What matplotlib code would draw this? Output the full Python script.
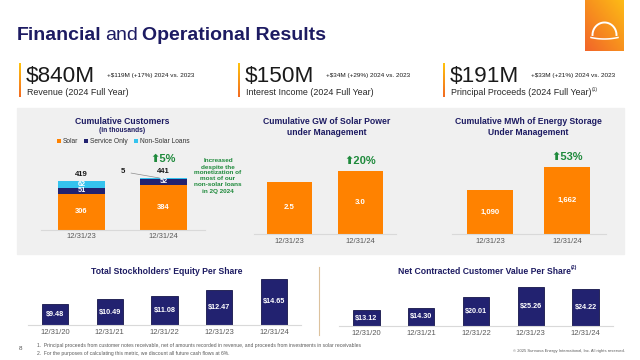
import numpy as np
import matplotlib
matplotlib.use('Agg')
import matplotlib.pyplot as plt
from matplotlib.colors import LinearSegmentedColormap
from matplotlib.patches import Rectangle

plt.rcParams['font.family'] = ['Liberation Sans', 'DejaVu Sans']

W, H = 640, 360

# --- data ---
kpi_values = ['$840M', '$150M', '$191M']
kpi_changes = ['+$119M (+17%) 2024 vs. 2023', '+$34M (+29%) 2024 vs. 2023', '+$33M (+21%) 2024 vs. 2023']
kpi_labels = ['Revenue (2024 Full Year)', 'Interest Income (2024 Full Year)', 'Principal Proceeds (2024 Full Year)']

dates_2 = ['12/31/23', '12/31/24']
cust_solar = [306, 384]
cust_service = [51, 52]
cust_nonsolar = [62, 5]
gw_solar = [2.5, 3.0]
mwh_storage = [1090, 1662]
growth = ['5%', '20%', '53%']

dates_5 = ['12/31/20', '12/31/21', '12/31/22', '12/31/23', '12/31/24']
equity_ps = [9.48, 10.49, 11.08, 12.47, 14.65]
nccv_ps = [13.12, 14.30, 20.01, 25.26, 24.22]

NAVY = '#1d1b62'
BAR_NAVY = '#222270'
ORANGE = '#ff8200'
LBLUE = '#35c3ee'
GREEN = '#1f8a3c'
GREY = '#595959'

fig = plt.figure(figsize=(6.4, 3.6), dpi=100)
fig.patch.set_facecolor('white')

# full-figure overlay in pixel coordinates
bg = fig.add_axes([0, 0, 1, 1])
bg.set_autoscale_on(False)
bg.set_xlim(0, W)
bg.set_ylim(H, 0)
bg.axis('off')


def px_axes(x0, y0, x1, y1):
    ax = fig.add_axes([x0 / W, 1 - y1 / H, (x1 - x0) / W, (y1 - y0) / H])
    ax.set_facecolor('none')
    return ax


def chain(parts, x, y, gap=0, **kw):
    r = fig.canvas.get_renderer()
    for s, extra in parts:
        t = bg.text(x, y, s, **kw, **extra)
        bb = t.get_window_extent(renderer=r)
        x = bg.transData.inverted().transform((bb.x1, bb.y0))[0] + gap
    return x


def style_bars(ax, labels, pad=3):
    for s in ['top', 'right', 'left']:
        ax.spines[s].set_visible(False)
    ax.spines['bottom'].set_color('#d9d9d9')
    ax.spines['bottom'].set_linewidth(0.8)
    ax.set_yticks([])
    ax.set_xticks(range(len(labels)), labels)
    ax.tick_params(axis='x', length=0, pad=pad, labelsize=5.5, labelcolor=GREY)
    ax.set_xlim(-0.5, len(labels) - 0.5)


# --- header ---
chain([('Financial', dict(fontweight='bold')), ('and', {}),
       ('Operational Results', dict(fontweight='bold'))],
      17, 40, gap=4, fontsize=14, color=NAVY, va='baseline')

logo_cmap = LinearSegmentedColormap.from_list('logo', ['#fdbb16', '#f7901e', '#f2652a'])
xx, yy = np.meshgrid(np.linspace(0, 1, 40), np.linspace(0, 1, 50))
bg.imshow((1 - xx + yy) / 2, cmap=logo_cmap, extent=(585, 624, 51, 0), aspect='auto', zorder=2)
t = np.linspace(0, np.pi, 60)
bg.plot(604.5 + 12 * np.cos(t), 35 - 12.5 * np.sin(t), color='white', lw=1.4, zorder=3)
xb = np.linspace(591, 618, 30)
bg.plot(xb, 37.5 + 1.5 * (1 - ((xb - 604.5) / 13.5) ** 2), color='white', lw=1.1, zorder=3)

# --- KPI row ---
acc_cmap = LinearSegmentedColormap.from_list('acc', ['#ffc20e', '#f26b21'])
grad = np.linspace(0, 1, 30).reshape(-1, 1)
for i, x in enumerate([19, 238, 443]):
    bg.imshow(grad, cmap=acc_cmap, extent=(x, x + 2, 97, 63), aspect='auto', zorder=2)
    bg.text(x + 7, 82.5, kpi_values[i], fontsize=16.2, color='#1a1a1a', va='baseline')
    bg.text(x + 88, 75, kpi_changes[i], fontsize=4.6, color='#1a1a1a', va='center')
    end = chain([(kpi_labels[i], {})], x + 8, 95, fontsize=6.4, color='#262626', va='baseline')
    if i == 2:
        bg.text(end + 0.5, 91, '(1)', fontsize=3.6, color='#262626', va='baseline')

# --- grey panel ---
bg.add_patch(Rectangle((17, 108), 607, 146, color='#f0f0f0', zorder=0))

# chart titles
bg.text(122, 122, 'Cumulative Customers', fontsize=6.2, fontweight='bold', color=NAVY, ha='center', va='center')
bg.text(122, 131, '(in thousands)', fontsize=4.8, fontweight='bold', color=NAVY, ha='center', va='center')
bg.text(327, 127, 'Cumulative GW of Solar Power\nunder Management', fontsize=6.2, fontweight='bold',
        color=NAVY, ha='center', va='center', linespacing=1.3)
bg.text(528, 127, 'Cumulative MWh of Energy Storage\nUnder Management', fontsize=6.2, fontweight='bold',
        color=NAVY, ha='center', va='center', linespacing=1.3)
bg.text(218, 176, 'Increased\ndespite the\nmonetization of\nmost of our\nnon-solar loans\nin 2Q 2024',
        fontsize=4.6, fontweight='bold', color=GREEN, ha='center', va='center', linespacing=1.25)

# customers stacked chart
ax1 = px_axes(40.5, 160, 204.5, 230)
x2 = np.arange(len(dates_2))
b_solar = ax1.bar(x2, cust_solar, 0.57, color=ORANGE, label='Solar')
bot = np.array(cust_solar)
b_serv = ax1.bar(x2, cust_service, 0.57, bottom=bot, color=BAR_NAVY, label='Service Only')
bot2 = bot + np.array(cust_service)
b_non = ax1.bar(x2, cust_nonsolar, 0.57, bottom=bot2, color=LBLUE, label='Non-Solar Loans')
totals = bot2 + np.array(cust_nonsolar)
ax1.set_ylim(0, 70 / 0.118)
style_bars(ax1, dates_2, pad=2)
for i in x2:
    ax1.text(i, cust_solar[i] / 2, str(cust_solar[i]), color='white', fontsize=5.4,
             fontweight='bold', ha='center', va='center')
    ax1.text(i, bot[i] + cust_service[i] / 2, str(cust_service[i]), color='white', fontsize=5.2,
             fontweight='bold', ha='center', va='center')
    ax1.annotate(str(totals[i]), (i, totals[i]), xytext=(0, 2), textcoords='offset points',
                 ha='center', va='bottom', fontsize=5.6, fontweight='bold', color='#1a1a1a')
ax1.text(0, bot2[0] + cust_nonsolar[0] / 2, str(cust_nonsolar[0]), color='white', fontsize=5.2,
         fontweight='bold', ha='center', va='center')
ax1.annotate(str(cust_nonsolar[1]), (0.95, totals[1]), xytext=(-26, 4.5), textcoords='offset points',
             ha='center', va='center', fontsize=5.6, fontweight='bold', color='#1a1a1a',
             arrowprops=dict(arrowstyle='-', color='#8c8c8c', lw=0.5, shrinkA=2, shrinkB=0))
ax1.annotate('⬆' + growth[0], (1, totals[1]), xytext=(0, 14), textcoords='offset points',
             ha='center', va='center', fontsize=8, fontweight='bold', color=GREEN)
ax1.legend(handles=[b_solar, b_serv, b_non], loc='center', bbox_to_anchor=(123 / W, 1 - 142 / H),
           bbox_transform=fig.transFigure, ncol=3, frameon=False, fontsize=4.8,
           handlelength=0.6, handleheight=0.6, handletextpad=0.3, columnspacing=0.9,
           labelcolor='#333333')

# GW chart
ax2 = px_axes(254, 154, 396, 234)
ax2.bar(x2, gw_solar, 0.63, color=ORANGE)
ax2.set_ylim(0, 80 / 21)
style_bars(ax2, dates_2)
for i in x2:
    ax2.text(i, gw_solar[i] / 2, f'{gw_solar[i]:.1f}', color='white', fontsize=5.6,
             fontweight='bold', ha='center', va='center')
ax2.annotate('⬆' + growth[1], (1, gw_solar[1]), xytext=(0, 7.5), textcoords='offset points',
             ha='center', va='center', fontsize=8, fontweight='bold', color=GREEN)

# MWh chart
ax3 = px_axes(451.5, 154, 605.5, 234)
ax3.bar(x2, mwh_storage, 0.6, color=ORANGE)
ax3.set_ylim(0, 80 / 0.0403)
style_bars(ax3, dates_2)
for i in x2:
    ax3.text(i, mwh_storage[i] / 2, f'{mwh_storage[i]:,}', color='white', fontsize=5.6,
             fontweight='bold', ha='center', va='center')
ax3.annotate('⬆' + growth[2], (1, mwh_storage[1]), xytext=(0, 7.5), textcoords='offset points',
             ha='center', va='center', fontsize=8, fontweight='bold', color=GREEN)

# --- bottom charts ---
bg.text(167, 272, "Total Stockholders' Equity Per Share", fontsize=6.2, fontweight='bold',
        color=NAVY, ha='center', va='center')
tt = bg.text(484, 272, 'Net Contracted Customer Value Per Share', fontsize=6.2, fontweight='bold',
             color=NAVY, ha='center', va='center')
bb = tt.get_window_extent(renderer=fig.canvas.get_renderer())
xe = bg.transData.inverted().transform((bb.x1, bb.y0))[0]
bg.text(xe + 0.5, 270, '(2)', fontsize=3.8, fontweight='bold', color=NAVY, va='bottom')
bg.plot([319, 319], [267, 335], color='#dcc29e', lw=0.8)

x5 = np.arange(len(dates_5))
ax4 = px_axes(27.6, 275, 301.4, 325)
ax4.bar(x5, equity_ps, 0.48, color=BAR_NAVY, edgecolor='#15154a', linewidth=0.6)
ax4.set_ylim(5.14, 5.14 + 50 / 4.84)
style_bars(ax4, dates_5)
for i in x5:
    ax4.text(i, (equity_ps[i] + 5.14) / 2, f'${equity_ps[i]:.2f}', color='white', fontsize=5.2,
             fontweight='bold', ha='center', va='center')

ax5 = px_axes(339, 281, 613, 326)
ax5.bar(x5, nccv_ps, 0.48, color=BAR_NAVY, edgecolor='#15154a', linewidth=0.6)
ax5.set_ylim(4.67, 4.67 + 45 / 1.89)
style_bars(ax5, dates_5)
for i in x5:
    ax5.text(i, (nccv_ps[i] + 4.67) / 2, f'${nccv_ps[i]:.2f}', color='white', fontsize=5.2,
             fontweight='bold', ha='center', va='center')

# --- footer ---
bg.text(19, 349, '8', fontsize=4.6, color=GREY, va='center')
bg.text(37, 346, '1.  Principal proceeds from customer notes receivable, net of amounts recorded in revenue, '
        'and proceeds from investments in solar receivables', fontsize=3.6, color=GREY, va='center')
bg.text(37, 353, '2.  For the purposes of calculating this metric, we discount all future cash flows at 6%.',
        fontsize=3.6, color=GREY, va='center')
bg.text(625, 351, '© 2025 Sunnova Energy International, Inc. All rights reserved.', fontsize=3.0,
        color=GREY, ha='right', va='center')

fig.savefig('out.png', dpi=100, facecolor='white')
